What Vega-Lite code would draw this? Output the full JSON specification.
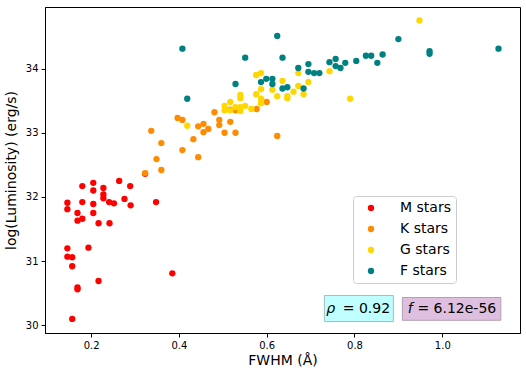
{
  "$schema": "https://vega.github.io/schema/vega-lite/v6.json",
  "width": 475,
  "height": 326,
  "autosize": {"type": "none"},
  "padding": {"left": 45, "top": 7, "right": 6, "bottom": 46},
  "background": "white",
  "config": {
    "view": {"stroke": "black", "strokeWidth": 1},
    "font": "DejaVu Sans",
    "axis": {
      "grid": false,
      "domainColor": "black",
      "domainWidth": 1,
      "tickColor": "black",
      "tickSize": 4,
      "tickWidth": 1,
      "labelColor": "black",
      "labelFont": "DejaVu Sans",
      "labelFontSize": 10,
      "labelPadding": 3,
      "titleColor": "black",
      "titleFont": "DejaVu Sans",
      "titleFontSize": 14,
      "titleFontWeight": "normal"
    }
  },
  "layer": [
    {
      "data": {
        "values": [
          {"x": 0.180, "y": 32.17, "type": "M stars"},
          {"x": 0.205, "y": 32.22, "type": "M stars"},
          {"x": 0.205, "y": 32.10, "type": "M stars"},
          {"x": 0.228, "y": 32.14, "type": "M stars"},
          {"x": 0.228, "y": 32.04, "type": "M stars"},
          {"x": 0.228, "y": 31.98, "type": "M stars"},
          {"x": 0.264, "y": 32.25, "type": "M stars"},
          {"x": 0.289, "y": 32.17, "type": "M stars"},
          {"x": 0.146, "y": 31.91, "type": "M stars"},
          {"x": 0.146, "y": 31.81, "type": "M stars"},
          {"x": 0.180, "y": 31.92, "type": "M stars"},
          {"x": 0.205, "y": 31.89, "type": "M stars"},
          {"x": 0.241, "y": 31.92, "type": "M stars"},
          {"x": 0.252, "y": 31.90, "type": "M stars"},
          {"x": 0.276, "y": 31.97, "type": "M stars"},
          {"x": 0.290, "y": 31.87, "type": "M stars"},
          {"x": 0.348, "y": 31.92, "type": "M stars"},
          {"x": 0.169, "y": 31.75, "type": "M stars"},
          {"x": 0.169, "y": 31.63, "type": "M stars"},
          {"x": 0.180, "y": 31.66, "type": "M stars"},
          {"x": 0.205, "y": 31.75, "type": "M stars"},
          {"x": 0.217, "y": 31.59, "type": "M stars"},
          {"x": 0.242, "y": 31.59, "type": "M stars"},
          {"x": 0.146, "y": 31.20, "type": "M stars"},
          {"x": 0.194, "y": 31.21, "type": "M stars"},
          {"x": 0.146, "y": 31.07, "type": "M stars"},
          {"x": 0.157, "y": 31.06, "type": "M stars"},
          {"x": 0.157, "y": 30.92, "type": "M stars"},
          {"x": 0.385, "y": 30.81, "type": "M stars"},
          {"x": 0.217, "y": 30.69, "type": "M stars"},
          {"x": 0.169, "y": 30.59, "type": "M stars"},
          {"x": 0.169, "y": 30.56, "type": "M stars"},
          {"x": 0.157, "y": 30.10, "type": "M stars"},
          {"x": 0.323, "y": 32.36, "type": "M stars"},
          {"x": 0.397, "y": 33.23, "type": "K stars"},
          {"x": 0.408, "y": 33.20, "type": "K stars"},
          {"x": 0.481, "y": 33.32, "type": "K stars"},
          {"x": 0.600, "y": 33.48, "type": "K stars"},
          {"x": 0.577, "y": 33.37, "type": "K stars"},
          {"x": 0.337, "y": 33.03, "type": "K stars"},
          {"x": 0.444, "y": 33.10, "type": "K stars"},
          {"x": 0.456, "y": 33.14, "type": "K stars"},
          {"x": 0.467, "y": 33.06, "type": "K stars"},
          {"x": 0.456, "y": 33.01, "type": "K stars"},
          {"x": 0.492, "y": 33.20, "type": "K stars"},
          {"x": 0.492, "y": 33.12, "type": "K stars"},
          {"x": 0.517, "y": 33.17, "type": "K stars"},
          {"x": 0.504, "y": 33.00, "type": "K stars"},
          {"x": 0.529, "y": 33.00, "type": "K stars"},
          {"x": 0.433, "y": 32.90, "type": "K stars"},
          {"x": 0.360, "y": 32.84, "type": "K stars"},
          {"x": 0.408, "y": 32.73, "type": "K stars"},
          {"x": 0.349, "y": 32.59, "type": "K stars"},
          {"x": 0.444, "y": 32.62, "type": "K stars"},
          {"x": 0.360, "y": 32.42, "type": "K stars"},
          {"x": 0.323, "y": 32.37, "type": "K stars"},
          {"x": 0.624, "y": 32.95, "type": "K stars"},
          {"x": 0.517, "y": 33.36, "type": "K stars"},
          {"x": 0.529, "y": 33.35, "type": "K stars"},
          {"x": 0.948, "y": 34.75, "type": "G stars"},
          {"x": 0.743, "y": 33.96, "type": "G stars"},
          {"x": 0.672, "y": 33.93, "type": "G stars"},
          {"x": 0.695, "y": 33.79, "type": "G stars"},
          {"x": 0.636, "y": 33.81, "type": "G stars"},
          {"x": 0.672, "y": 33.73, "type": "G stars"},
          {"x": 0.661, "y": 33.64, "type": "G stars"},
          {"x": 0.647, "y": 33.54, "type": "G stars"},
          {"x": 0.684, "y": 33.60, "type": "G stars"},
          {"x": 0.790, "y": 33.53, "type": "G stars"},
          {"x": 0.576, "y": 33.90, "type": "G stars"},
          {"x": 0.587, "y": 33.93, "type": "G stars"},
          {"x": 0.587, "y": 33.68, "type": "G stars"},
          {"x": 0.576, "y": 33.60, "type": "G stars"},
          {"x": 0.587, "y": 33.53, "type": "G stars"},
          {"x": 0.587, "y": 33.46, "type": "G stars"},
          {"x": 0.613, "y": 33.67, "type": "G stars"},
          {"x": 0.624, "y": 33.57, "type": "G stars"},
          {"x": 0.647, "y": 33.57, "type": "G stars"},
          {"x": 0.540, "y": 33.59, "type": "G stars"},
          {"x": 0.540, "y": 33.54, "type": "G stars"},
          {"x": 0.517, "y": 33.48, "type": "G stars"},
          {"x": 0.504, "y": 33.42, "type": "G stars"},
          {"x": 0.504, "y": 33.35, "type": "G stars"},
          {"x": 0.517, "y": 33.35, "type": "G stars"},
          {"x": 0.529, "y": 33.40, "type": "G stars"},
          {"x": 0.540, "y": 33.40, "type": "G stars"},
          {"x": 0.540, "y": 33.34, "type": "G stars"},
          {"x": 0.551, "y": 33.42, "type": "G stars"},
          {"x": 0.565, "y": 33.37, "type": "G stars"},
          {"x": 0.419, "y": 33.11, "type": "G stars"},
          {"x": 0.900, "y": 34.46, "type": "F stars"},
          {"x": 0.971, "y": 34.27, "type": "F stars"},
          {"x": 0.971, "y": 34.23, "type": "F stars"},
          {"x": 1.128, "y": 34.31, "type": "F stars"},
          {"x": 0.864, "y": 34.22, "type": "F stars"},
          {"x": 0.852, "y": 34.09, "type": "F stars"},
          {"x": 0.826, "y": 34.20, "type": "F stars"},
          {"x": 0.838, "y": 34.20, "type": "F stars"},
          {"x": 0.804, "y": 34.12, "type": "F stars"},
          {"x": 0.779, "y": 34.09, "type": "F stars"},
          {"x": 0.757, "y": 34.15, "type": "F stars"},
          {"x": 0.743, "y": 34.10, "type": "F stars"},
          {"x": 0.757, "y": 34.04, "type": "F stars"},
          {"x": 0.768, "y": 34.01, "type": "F stars"},
          {"x": 0.695, "y": 34.07, "type": "F stars"},
          {"x": 0.672, "y": 34.01, "type": "F stars"},
          {"x": 0.695, "y": 33.95, "type": "F stars"},
          {"x": 0.708, "y": 33.93, "type": "F stars"},
          {"x": 0.720, "y": 33.93, "type": "F stars"},
          {"x": 0.636, "y": 34.17, "type": "F stars"},
          {"x": 0.624, "y": 34.51, "type": "F stars"},
          {"x": 0.684, "y": 33.69, "type": "F stars"},
          {"x": 0.647, "y": 33.71, "type": "F stars"},
          {"x": 0.636, "y": 33.69, "type": "F stars"},
          {"x": 0.408, "y": 34.31, "type": "F stars"},
          {"x": 0.551, "y": 34.17, "type": "F stars"},
          {"x": 0.529, "y": 33.76, "type": "F stars"},
          {"x": 0.419, "y": 33.53, "type": "F stars"},
          {"x": 0.587, "y": 33.79, "type": "F stars"},
          {"x": 0.599, "y": 33.84, "type": "F stars"},
          {"x": 0.613, "y": 33.84, "type": "F stars"},
          {"x": 0.613, "y": 33.76, "type": "F stars"}
        ]
      },
      "mark": {"type": "point", "filled": true, "size": 40, "opacity": 1, "shape": "circle"},
      "encoding": {
        "x": {
          "field": "x", "type": "quantitative",
          "scale": {"domain": [0.095, 1.177], "nice": false, "zero": false},
          "axis": {"title": "FWHM (Å)", "values": [0.2, 0.4, 0.6, 0.8, 1.0], "format": ".1f", "titlePadding": 3}
        },
        "y": {
          "field": "y", "type": "quantitative",
          "scale": {"domain": [29.88, 34.96], "nice": false, "zero": false},
          "axis": {"title": "log(Luminosity) (erg/s)", "values": [30, 31, 32, 33, 34], "format": "d", "titlePadding": 7}
        },
        "color": {
          "field": "type", "type": "nominal",
          "scale": {"domain": ["M stars", "K stars", "G stars", "F stars"], "range": ["#ff0000", "#ff8c00", "#ffd700", "#008080"]},
          "legend": {
            "title": null,
            "orient": "none",
            "legendX": 308,
            "legendY": 189,
            "padding": 5,
            "symbolOffset": 6,
            "labelOffset": 22,
            "rowPadding": 7,
            "symbolType": "circle",
            "symbolSize": 40,
            "symbolStrokeWidth": 0,
            "labelFontSize": 14,
            "labelFont": "DejaVu Sans",
            "labelColor": "black",
            "fillColor": "white",
            "strokeColor": "#cccccc",
            "cornerRadius": 3
          }
        }
      }
    },
    {
      "data": {"values": [{"x1": 0.7314, "x2": 0.8886, "y1": 30.058, "y2": 30.464}]},
      "mark": {"type": "rect", "fill": "#bfffff", "stroke": "#9fbfbf", "strokeWidth": 1},
      "encoding": {
        "x": {"field": "x1", "type": "quantitative"},
        "x2": {"field": "x2"},
        "y": {"field": "y1", "type": "quantitative"},
        "y2": {"field": "y2"}
      }
    },
    {
      "data": {"values": [{"x1": 0.9091, "x2": 1.1333, "y1": 30.078, "y2": 30.433}]},
      "mark": {"type": "rect", "fill": "#dfbfdf", "stroke": "#b09fb0", "strokeWidth": 1},
      "encoding": {
        "x": {"field": "x1", "type": "quantitative"},
        "x2": {"field": "x2"},
        "y": {"field": "y1", "type": "quantitative"},
        "y2": {"field": "y2"}
      }
    },
    {
      "data": {"values": [{"x": 0.7558, "y": 30.198, "label": "ρ"}, {"x": 0.9323, "y": 30.198, "label": "f"}]},
      "mark": {"type": "text", "align": "right", "baseline": "alphabetic", "font": "DejaVu Sans", "fontSize": 14, "fontStyle": "italic", "color": "black"},
      "encoding": {
        "x": {"field": "x", "type": "quantitative"},
        "y": {"field": "y", "type": "quantitative"},
        "text": {"field": "label"}
      }
    },
    {
      "data": {"values": [{"x": 0.7733, "y": 30.198, "label": "= 0.92"}, {"x": 0.9433, "y": 30.198, "label": "= 6.12e-56"}]},
      "mark": {"type": "text", "align": "left", "baseline": "alphabetic", "font": "DejaVu Sans", "fontSize": 14, "color": "black"},
      "encoding": {
        "x": {"field": "x", "type": "quantitative"},
        "y": {"field": "y", "type": "quantitative"},
        "text": {"field": "label"}
      }
    }
  ]
}
